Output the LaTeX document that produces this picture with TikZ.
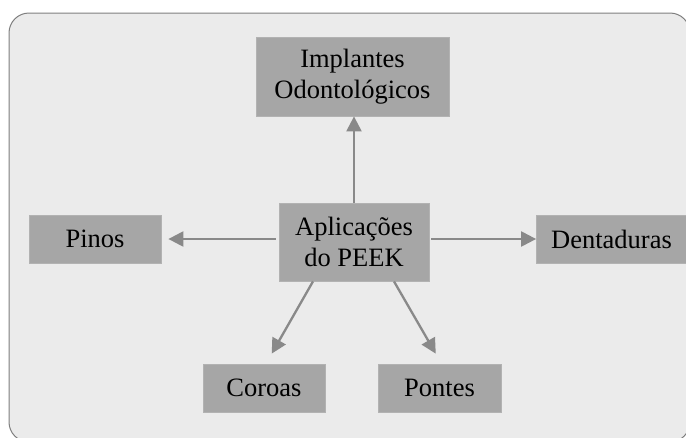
\documentclass[tikz,border=0pt]{standalone}
\usepackage{fontspec}
\setmainfont{Liberation Serif}
\usetikzlibrary{arrows.meta,positioning}
\definecolor{panelbg}{HTML}{EBEBEB}
\definecolor{panelline}{HTML}{7F7F7F}
\definecolor{boxfill}{HTML}{A6A6A6}
\definecolor{boxline}{HTML}{B2B2B2}
\definecolor{arrowgray}{HTML}{898989}
\tikzset{
  appbox/.style={fill=boxfill, draw=boxline, line width=0.8pt, align=center,
    inner sep=0pt, font=\fontsize{26.5}{31}\selectfont},
  apparrow/.style={draw=arrowgray, line width=2.3pt,
    -{Triangle[length=15pt,width=15pt]}}
}
\begin{document}
\begin{tikzpicture}[x=1pt,y=-1pt]
    \useasboundingbox (0,0) rectangle (686,437);
    % background panel
    \draw[fill=panelbg, draw=panelline, line width=1pt, rounded corners=20pt]
      (9,13) rectangle (690,442);
    % boxes
    \node[appbox, minimum width=193pt, minimum height=79pt] (implantes) at (352.5,76.5) {Implantes\\Odontológicos};
    \node[appbox, minimum width=150pt, minimum height=78pt] (peek) at (354,242) {Aplicações\\do PEEK};
    \node[appbox, minimum width=132pt, minimum height=48pt] (pinos) at (95,239) {Pinos};
    \node[appbox, minimum width=150pt, minimum height=48pt] (dentaduras) at (611.5,239) {Dentaduras};
    \node[appbox, minimum width=122pt, minimum height=48pt] (coroas) at (264,388) {Coroas};
    \node[appbox, minimum width=123pt, minimum height=48pt] (pontes) at (439.5,388) {Pontes};
    % arrows
    \draw[apparrow] (peek.north) -- (peek.north |- implantes.south);
    \draw[apparrow, shorten <=3pt, shorten >=7pt] (peek.west |- pinos.east) -- (pinos.east);
    \draw[apparrow, shorten <=2pt] (peek.east |- dentaduras.west) -- (dentaduras.west);
    \draw[apparrow, shorten >=11.5pt] ([xshift=-41pt]peek.south) -- ([xshift=2pt]coroas.north);
    \draw[apparrow, shorten >=11.5pt] ([xshift=40pt]peek.south) -- ([xshift=2pt]pontes.north);
  \end{tikzpicture}
\end{document}
